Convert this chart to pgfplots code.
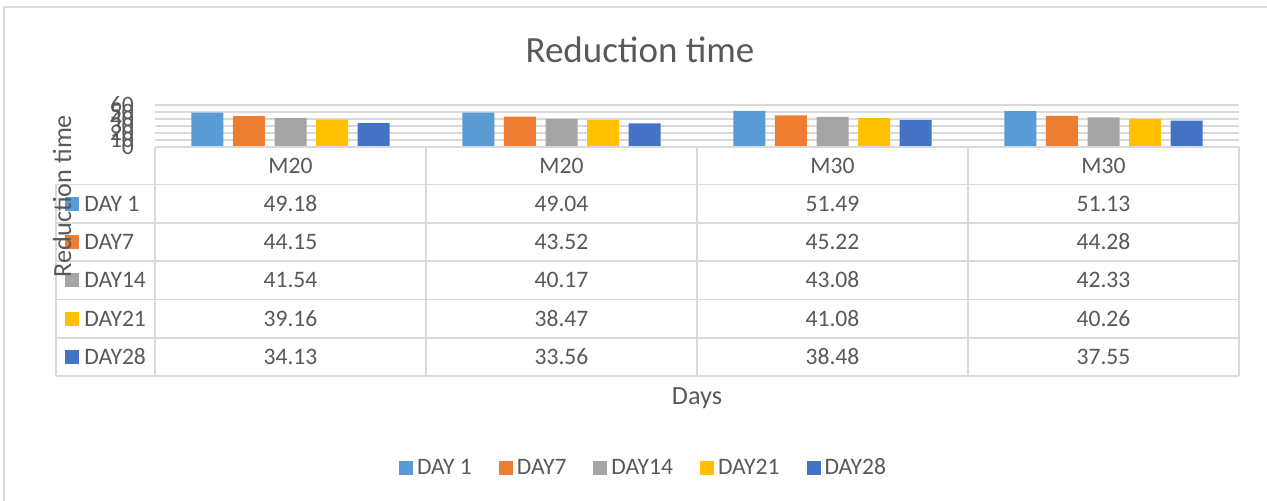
\documentclass[border=0pt]{standalone}
\usepackage{pgfplots}
\pgfplotsset{compat=1.18}
\usepackage{fontspec}
\setmainfont{Carlito}
\definecolor{c1}{HTML}{5B9BD5}
\definecolor{c2}{HTML}{ED7D31}
\definecolor{c3}{HTML}{A5A5A5}
\definecolor{c4}{HTML}{FFC000}
\definecolor{c5}{HTML}{4472C4}
\definecolor{txt}{HTML}{595959}
\definecolor{gridc}{HTML}{D9D9D9}
\newcommand{\bodyf}{\fontsize{11.8}{14}\selectfont}
\begin{document}
\begin{tikzpicture}
\begin{scope}[x=0.5pt,y=-0.5pt,yshift=250.5pt]
\path[use as bounding box] (0,0) rectangle (1267,501);
\draw[gridc, line width=0.75pt] (4,501) -- (4,7) -- (1267,7);
\node[txt, font=\fontsize{18.5}{22}\selectfont] at (640,50) {Reduction time};
\end{scope}
\begin{axis}[
  at={(77.5pt,177pt)}, anchor=south west, scale only axis,
  width=542pt, height=21pt,
  ymin=0, ymax=60, ytick={0,10,...,60},
  xmin=-0.5, xmax=3.5, xtick=\empty,
  axis line style={draw=none},
  ymajorgrids, grid style={gridc, line width=0.9pt},
  major tick length=0pt,
  /pgf/number format/assume math mode=true,
  yticklabel style={txt, font=\bodyf, xshift=-7pt},
  ybar=4.8pt, bar width=16pt,
  clip=false,
  legend columns=5,
  legend style={draw=none, fill=none, at={(rel axis cs:0.4516,-7.643)}, anchor=center,
    font=\bodyf, text=txt,
    /tikz/every even column/.append style={column sep=11.5pt}},
  legend cell align=left,
]
\addplot[fill=c1, draw=none, legend image code/.code={\fill[c1] (0pt,-3.5pt) rectangle (7pt,3.5pt);}] coordinates {(0,49.18) (1,49.04) (2,51.49) (3,51.13)};
\addplot[fill=c2, draw=none, legend image code/.code={\fill[c2] (0pt,-3.5pt) rectangle (7pt,3.5pt);}] coordinates {(0,44.15) (1,43.52) (2,45.22) (3,44.28)};
\addplot[fill=c3, draw=none, legend image code/.code={\fill[c3] (0pt,-3.5pt) rectangle (7pt,3.5pt);}] coordinates {(0,41.54) (1,40.17) (2,43.08) (3,42.33)};
\addplot[fill=c4, draw=none, legend image code/.code={\fill[c4] (0pt,-3.5pt) rectangle (7pt,3.5pt);}] coordinates {(0,39.16) (1,38.47) (2,41.08) (3,40.26)};
\addplot[fill=c5, draw=none, legend image code/.code={\fill[c5] (0pt,-3.5pt) rectangle (7pt,3.5pt);}] coordinates {(0,34.13) (1,33.56) (2,38.48) (3,37.55)};
\legend{DAY 1, DAY7, DAY14, DAY21, DAY28}
\end{axis}
\begin{scope}[x=0.5pt,y=-0.5pt,yshift=250.5pt]
\begin{scope}[gridc, line width=0.9pt]
\draw (155,147) -- (1239,147);
\foreach \y in {184.5,223,261,299.5,338,376} \draw (56,\y) -- (1239,\y);
\draw (56,184.5) -- (56,376);
\foreach \x in {155,426,697,968,1239} \draw (\x,147) -- (\x,376);
\end{scope}
\begin{scope}[txt, font=\bodyf]
\node at (290.5,166) {M20};
\node at (561.5,166) {M20};
\node at (832.5,166) {M30};
\node at (1103.5,166) {M30};
\fill[c1] (65,197) rectangle (79,211); \node[anchor=west, inner sep=0pt] at (84,204) {DAY 1};
\fill[c2] (65,235) rectangle (79,249); \node[anchor=west, inner sep=0pt] at (84,242) {DAY7};
\fill[c3] (65,273) rectangle (79,287); \node[anchor=west, inner sep=0pt] at (84,280) {DAY14};
\fill[c4] (65,312) rectangle (79,326); \node[anchor=west, inner sep=0pt] at (84,319) {DAY21};
\fill[c5] (65,350) rectangle (79,364); \node[anchor=west, inner sep=0pt] at (84,357) {DAY28};
\node at (290.5,204) {49.18}; \node at (561.5,204) {49.04}; \node at (832.5,204) {51.49}; \node at (1103.5,204) {51.13};
\node at (290.5,242) {44.15}; \node at (561.5,242) {43.52}; \node at (832.5,242) {45.22}; \node at (1103.5,242) {44.28};
\node at (290.5,280) {41.54}; \node at (561.5,280) {40.17}; \node at (832.5,280) {43.08}; \node at (1103.5,280) {42.33};
\node at (290.5,319) {39.16}; \node at (561.5,319) {38.47}; \node at (832.5,319) {41.08}; \node at (1103.5,319) {40.26};
\node at (290.5,357) {34.13}; \node at (561.5,357) {33.56}; \node at (832.5,357) {38.48}; \node at (1103.5,357) {37.55};
\end{scope}
\node[txt, font=\fontsize{13.1}{16}\selectfont, rotate=90] at (62,196) {Reduction time};
\node[txt, font=\fontsize{13.1}{16}\selectfont] at (697,398) {Days};
\end{scope}
\end{tikzpicture}
\end{document}
